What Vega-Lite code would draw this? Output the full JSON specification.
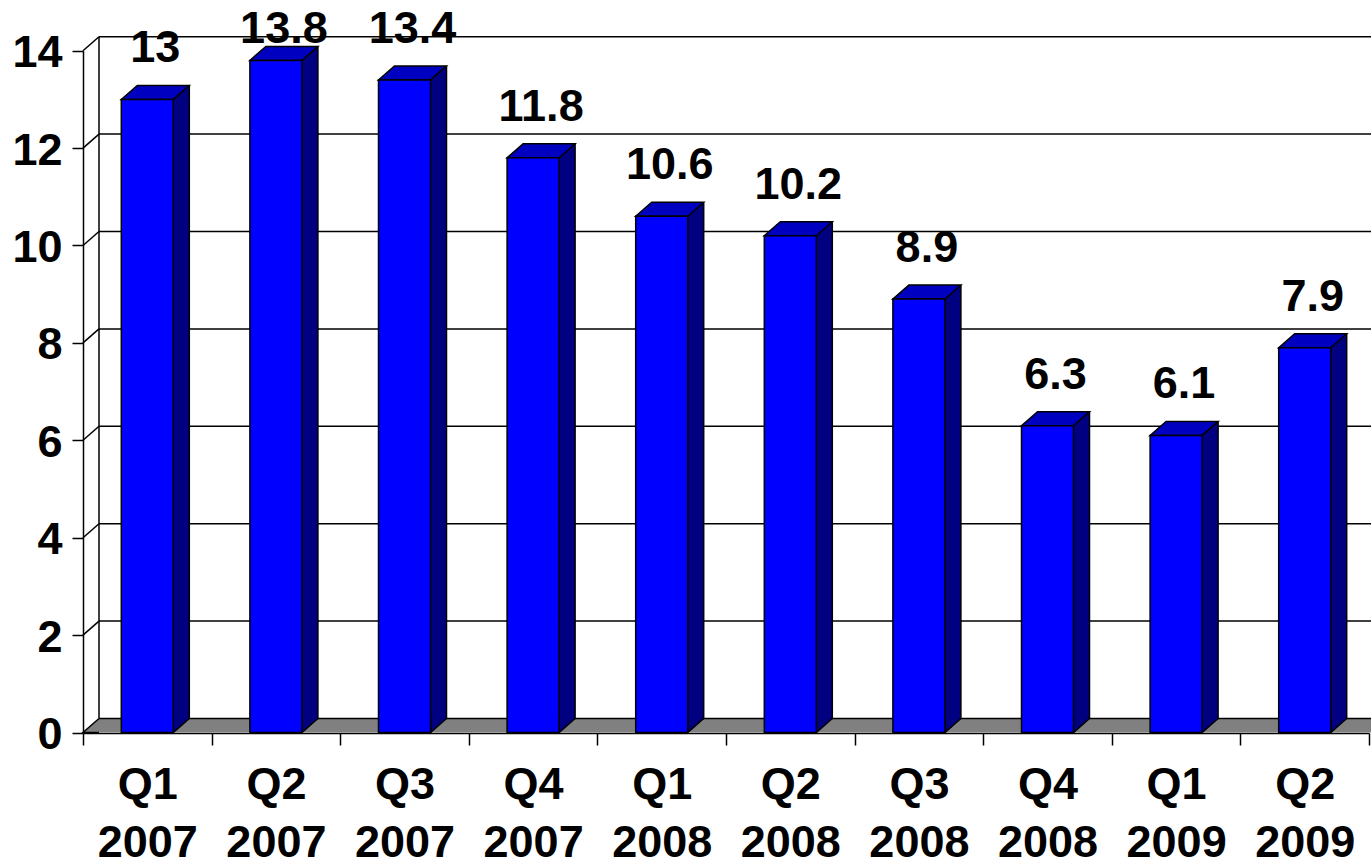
{
  "$schema": "https://vega.github.io/schema/vega-lite/v6.json",
  "width": 1272,
  "height": 696,
  "autosize": {"type": "none"},
  "padding": {"left": 99, "top": 37, "right": 0, "bottom": 134},
  "background": "white",
  "config": {"view": {"stroke": null}},
  "data": {"values": [
    {"q": "Q1 2007", "v": 13},
    {"q": "Q2 2007", "v": 13.8},
    {"q": "Q3 2007", "v": 13.4},
    {"q": "Q4 2007", "v": 11.8},
    {"q": "Q1 2008", "v": 10.6},
    {"q": "Q2 2008", "v": 10.2},
    {"q": "Q3 2008", "v": 8.9},
    {"q": "Q4 2008", "v": 6.3},
    {"q": "Q1 2009", "v": 6.1},
    {"q": "Q2 2009", "v": 7.9}
  ]},
  "resolve": {"scale": {"y": "independent"}, "axis": {"y": "independent"}},
  "layer": [
    {
      "layer": [
        {
          "data": {"values": [{}]},
          "mark": {"type": "rect", "fill": "#808080", "strokeWidth": 0, "y2Offset": -14},
          "encoding": {"y": {"datum": 0}, "y2": {"datum": 0}}
        },
        {
          "data": {"values": [{}]},
          "mark": {"type": "point", "shape": "M1,0.875L-1,0.875L1,-0.875", "size": 256, "filled": true, "fill": "#808080", "stroke": "black", "strokeWidth": 1.5, "opacity": 1, "xOffset": -56.3, "yOffset": -7},
          "encoding": {"x": {"datum": "Q1 2007"}, "y": {"datum": 0}}
        },
        {"data": {"values": [{}]}, "mark": {"type": "rule", "stroke": "black", "strokeWidth": 1.5, "yOffset": -14}, "encoding": {"y": {"datum": 0}}},
        {"data": {"values": [{}]}, "mark": {"type": "rule", "stroke": "black", "strokeWidth": 1.5, "yOffset": -14}, "encoding": {"y": {"datum": 2}}},
        {"data": {"values": [{}]}, "mark": {"type": "rule", "stroke": "black", "strokeWidth": 1.5, "yOffset": -14}, "encoding": {"y": {"datum": 4}}},
        {"data": {"values": [{}]}, "mark": {"type": "rule", "stroke": "black", "strokeWidth": 1.5, "yOffset": -14}, "encoding": {"y": {"datum": 6}}},
        {"data": {"values": [{}]}, "mark": {"type": "rule", "stroke": "black", "strokeWidth": 1.5, "yOffset": -14}, "encoding": {"y": {"datum": 8}}},
        {"data": {"values": [{}]}, "mark": {"type": "rule", "stroke": "black", "strokeWidth": 1.5, "yOffset": -14}, "encoding": {"y": {"datum": 10}}},
        {"data": {"values": [{}]}, "mark": {"type": "rule", "stroke": "black", "strokeWidth": 1.5, "yOffset": -14}, "encoding": {"y": {"datum": 12}}},
        {"data": {"values": [{}]}, "mark": {"type": "rule", "stroke": "black", "strokeWidth": 1.5, "yOffset": -14}, "encoding": {"y": {"datum": 14}}},
        {"data": {"values": [{}]}, "mark": {"type": "point", "shape": "M-1,0.875L1,-0.875", "size": 256, "filled": false, "stroke": "black", "strokeWidth": 1.5, "opacity": 1, "xOffset": -56.3, "yOffset": -7}, "encoding": {"x": {"datum": "Q1 2007"}, "y": {"datum": 2}}},
        {"data": {"values": [{}]}, "mark": {"type": "point", "shape": "M-1,0.875L1,-0.875", "size": 256, "filled": false, "stroke": "black", "strokeWidth": 1.5, "opacity": 1, "xOffset": -56.3, "yOffset": -7}, "encoding": {"x": {"datum": "Q1 2007"}, "y": {"datum": 4}}},
        {"data": {"values": [{}]}, "mark": {"type": "point", "shape": "M-1,0.875L1,-0.875", "size": 256, "filled": false, "stroke": "black", "strokeWidth": 1.5, "opacity": 1, "xOffset": -56.3, "yOffset": -7}, "encoding": {"x": {"datum": "Q1 2007"}, "y": {"datum": 6}}},
        {"data": {"values": [{}]}, "mark": {"type": "point", "shape": "M-1,0.875L1,-0.875", "size": 256, "filled": false, "stroke": "black", "strokeWidth": 1.5, "opacity": 1, "xOffset": -56.3, "yOffset": -7}, "encoding": {"x": {"datum": "Q1 2007"}, "y": {"datum": 8}}},
        {"data": {"values": [{}]}, "mark": {"type": "point", "shape": "M-1,0.875L1,-0.875", "size": 256, "filled": false, "stroke": "black", "strokeWidth": 1.5, "opacity": 1, "xOffset": -56.3, "yOffset": -7}, "encoding": {"x": {"datum": "Q1 2007"}, "y": {"datum": 10}}},
        {"data": {"values": [{}]}, "mark": {"type": "point", "shape": "M-1,0.875L1,-0.875", "size": 256, "filled": false, "stroke": "black", "strokeWidth": 1.5, "opacity": 1, "xOffset": -56.3, "yOffset": -7}, "encoding": {"x": {"datum": "Q1 2007"}, "y": {"datum": 12}}},
        {"data": {"values": [{}]}, "mark": {"type": "point", "shape": "M-1,0.875L1,-0.875", "size": 256, "filled": false, "stroke": "black", "strokeWidth": 1.5, "opacity": 1, "xOffset": -56.3, "yOffset": -7}, "encoding": {"x": {"datum": "Q1 2007"}, "y": {"datum": 14}}},
        {
          "data": {"values": [{}]},
          "mark": {"type": "rule", "stroke": "black", "strokeWidth": 1.5, "xOffset": -48.3, "yOffset": -14, "y2Offset": -14},
          "encoding": {"x": {"datum": "Q1 2007"}, "y": {"datum": 0}, "y2": {"datum": 14}}
        },
        {
          "mark": {"type": "bar", "width": 16, "xOffset": 34, "yOffset": -14, "y2Offset": -13, "fill": "#000080", "strokeWidth": 0},
          "encoding": {"x": {"field": "q", "type": "nominal"}, "y": {"field": "v", "type": "quantitative"}, "y2": {"datum": 0}}
        },
        {
          "mark": {"type": "point", "shape": "M-1,-0.875L-1,0.875L1,-0.875", "size": 256, "filled": true, "fill": "#000080", "stroke": "black", "strokeWidth": 1.5, "opacity": 1, "xOffset": 34, "yOffset": -7},
          "encoding": {"x": {"field": "q", "type": "nominal"}, "y": {"datum": 0}}
        },
        {
          "mark": {"type": "rule", "stroke": "black", "strokeWidth": 1.5, "xOffset": 42, "yOffset": -14, "y2Offset": -14},
          "encoding": {"x": {"field": "q", "type": "nominal"}, "y": {"field": "v", "type": "quantitative"}, "y2": {"datum": 0}}
        },
        {
          "mark": {"type": "point", "shape": "M-1,0.2059L0.5294,0.2059L1,-0.2059L-0.5294,-0.2059Z", "size": 4624, "filled": true, "fill": "#0000C0", "stroke": "black", "strokeWidth": 1.5, "opacity": 1, "xOffset": 8, "yOffset": -7},
          "encoding": {"x": {"field": "q", "type": "nominal"}, "y": {"field": "v", "type": "quantitative"}}
        },
        {
          "mark": {"type": "bar", "width": 52, "fill": "#0000FF", "stroke": "black", "strokeWidth": 1.5},
          "encoding": {
            "x": {
              "field": "q", "type": "nominal",
              "scale": {"type": "band", "domain": ["Q1 2007", "Q2 2007", "Q3 2007", "Q4 2007", "Q1 2008", "Q2 2008", "Q3 2008", "Q4 2008", "Q1 2009", "Q2 2009"], "range": [-16, 1270], "paddingInner": 0, "paddingOuter": 0},
              "axis": {"orient": "bottom", "title": null, "tickBand": "extent", "domainColor": "black", "domainWidth": 1.5, "tickColor": "black", "tickWidth": 1.5, "tickSize": 12, "labelAngle": 0, "labelAlign": "center", "labelFont": "Liberation Sans", "labelFontSize": 45, "labelFontWeight": "bold", "labelColor": "black", "labelPadding": 17, "labelLineHeight": 58, "labelBaseline": "top", "labelOverlap": false, "labelExpr": "split(datum.label, ' ')"}
            },
            "y": {
              "field": "v", "type": "quantitative",
              "scale": {"domain": [0, 14], "range": [695.5, 13.7], "nice": false, "zero": true},
              "axis": {"orient": "left", "title": null, "offset": 16, "values": [0, 2, 4, 6, 8, 10, 12, 14], "grid": false, "domainColor": "black", "domainWidth": 1.5, "tickColor": "black", "tickWidth": 1.5, "tickSize": 11, "labelFont": "Liberation Sans", "labelFontSize": 45, "labelFontWeight": "bold", "labelColor": "black", "labelPadding": 10, "labelOffset": 2}
            }
          }
        }
      ]
    },
    {
      "mark": {"type": "text", "font": "Liberation Sans", "fontSize": 45, "fontWeight": "bold", "color": "black", "align": "center", "baseline": "alphabetic", "dx": 8, "dy": -37},
      "encoding": {
        "x": {"field": "q", "type": "nominal"},
        "y": {"field": "v", "type": "quantitative", "scale": {"domain": [0, 13.4], "range": [695.5, 42.8], "clamp": true, "nice": false, "zero": true}, "axis": null},
        "text": {"field": "v", "type": "quantitative"}
      }
    }
  ]
}
